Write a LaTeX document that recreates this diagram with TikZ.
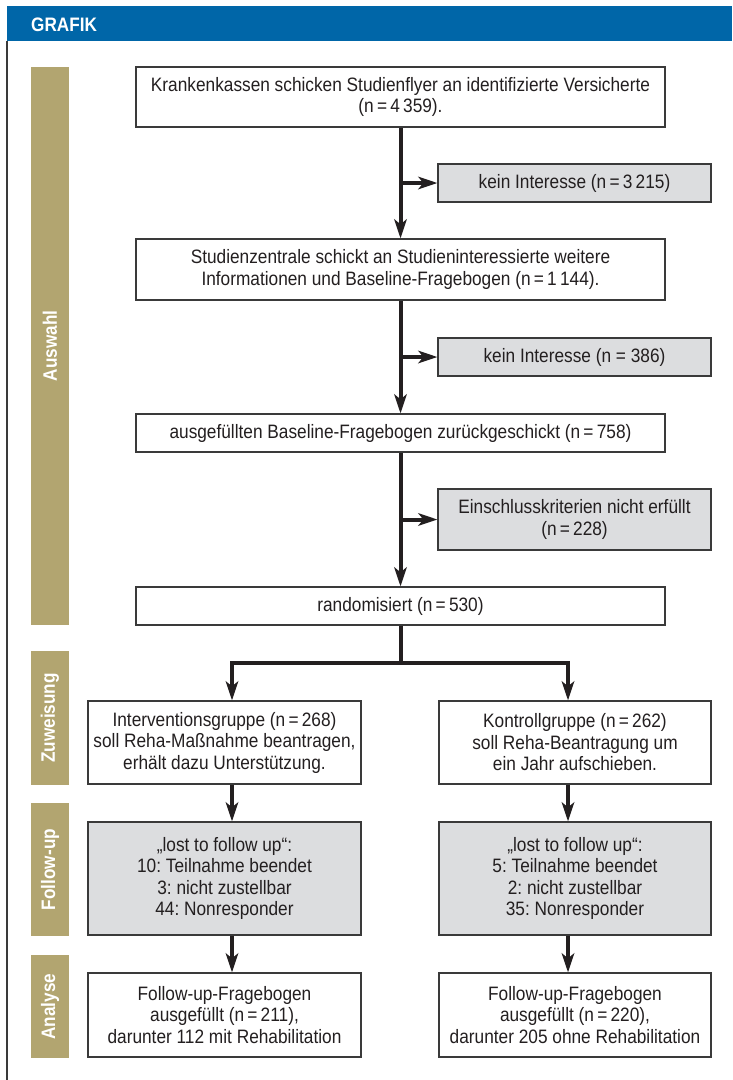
\documentclass[tikz,border=0pt]{standalone}
\usepackage{fontspec}
\setmainfont{Liberation Sans}
\newfontfamily\boxfont[FakeStretch=0.89]{Liberation Sans}
\newfontfamily\bandfont[FakeStretch=0.88]{Liberation Sans}
\usetikzlibrary{arrows.meta}
\definecolor{grafikblue}{HTML}{0066A8}
\definecolor{grafikband}{HTML}{B2A570}
\definecolor{grafikgray}{HTML}{DCDDDF}
\definecolor{grafikink}{HTML}{231F20}
\definecolor{grafikrule}{HTML}{3A3A3A}
\frenchspacing

\begin{document}
\begin{tikzpicture}[
  x=1pt,
  y=-1pt,
  every node/.style={font=\boxfont\fontsize{19.4}{21.5}\selectfont, grafikink},
  box/.style={draw=grafikrule, line width=1.3pt, fill=white, align=center,
              inner sep=0pt},
  outbox/.style={box, fill=grafikgray},
  band/.style={fill=grafikband, rotate=90, inner sep=0pt, minimum height=38pt,
               text=white, font=\bandfont\bfseries\fontsize{19.5}{22}\selectfont},
  trunk/.style={grafikink, line width=4pt},
  flow/.style={trunk, -{Stealth[length=19pt, width=12.5pt, inset=5pt]}},
  framerule/.style={grafikrule, line width=1.5pt}
]
  % ---- page size of the reference ----
  \useasboundingbox (0,0) rectangle (732,1080);

  % ---- header bar and frame ----
  \fill[grafikblue] (7,6) rectangle (732,41);
  \node[anchor=base west, inner sep=0pt, text=white,
        font=\bandfont\bfseries\fontsize{19.5}{22}\selectfont] (title) at (31,31) {GRAFIK};
  \draw[framerule] (7,41) -- (7,1080);

  % ---- phase bands on the left ----
  \foreach \name/\y/\len/\lab in {auswahl/346/558/Auswahl, zuweisung/718/134/Zuweisung,
                                  followup/869.5/133/Follow-up, analyse/1006.5/103/Analyse}
    \node[band, minimum width=\len pt] (\name) at (50,\y) {\lab};

  % ---- selection, main column ----
  \node[box, minimum width=529pt, minimum height=60pt] (flyer) at (400.5,97)
    {Krankenkassen schicken Studienflyer an identifizierte Versicherte\\(n\,=\,4\,359).};
  \node[box, minimum width=529pt, minimum height=61pt] (zentrale) at (400.5,269.5)
    {Studienzentrale schickt an Studieninteressierte weitere\\Informationen und Baseline-Fragebogen (n\,=\,1\,144).};
  \node[box, minimum width=529pt, minimum height=38pt] (bogen) at (400.5,433)
    {ausgefüllten Baseline-Fragebogen zurückgeschickt (n\,=\,758)};
  \node[box, minimum width=529pt, minimum height=38pt] (rand) at (400.5,606)
    {randomisiert (n\,=\,530)};

  % ---- dropouts, right column ----
  \node[outbox, minimum width=273pt, minimum height=38pt] (kein1) at (574.5,183)
    {kein Interesse (n\,=\,3\,215)};
  \node[outbox, minimum width=273pt, minimum height=38pt] (kein2) at (574.5,357)
    {kein Interesse (n = 386)};
  \node[outbox, minimum width=273pt, minimum height=61pt] (einschl) at (574.5,519.5)
    {Einschlusskriterien nicht erfüllt\\(n\,=\,228)};

  % ---- the two arms ----
  \node[box, minimum width=273pt, minimum height=83pt] (interv) at (224.5,742.5)
    {Interventionsgruppe (n\,=\,268)\\soll Reha-Maßnahme beantragen,\\erhält dazu Unterstützung.};
  \node[box, minimum width=272pt, minimum height=83pt] (kontr) at (575,742.5)
    {Kontrollgruppe (n\,=\,262)\\soll Reha-Beantragung um\\ein Jahr aufschieben.};
  \node[outbox, minimum width=273pt, minimum height=113pt] (lostI) at (224.5,878.5)
    {„lost to follow up“:\\10: Teilnahme beendet\\3: nicht zustellbar\\44: Nonresponder};
  \node[outbox, minimum width=272pt, minimum height=113pt] (lostK) at (575,878.5)
    {„lost to follow up“:\\5: Teilnahme beendet\\2: nicht zustellbar\\35: Nonresponder};
  \node[box, minimum width=273pt, minimum height=84pt] (anaI) at (224.5,1015)
    {Follow-up-Fragebogen\\ausgefüllt (n\,=\,211),\\darunter 112 mit Rehabilitation};
  \node[box, minimum width=272pt, minimum height=84pt] (anaK) at (575,1015)
    {Follow-up-Fragebogen\\ausgefüllt (n\,=\,220),\\darunter 205 ohne Rehabilitation};

  % ---- main flow downwards ----
  \draw[flow] (flyer.south) -- (zentrale.north);
  \draw[flow] (zentrale.south) -- (bogen.north);
  \draw[flow] (bogen.south) -- (rand.north);

  % ---- side arrows to the dropouts ----
  \draw[flow] (kein1 -| flyer.south) -- (kein1.west);
  \draw[flow] (kein2 -| flyer.south) -- (kein2.west);
  \draw[flow] (einschl -| flyer.south) -- (einschl.west);

  % ---- randomisation fork ----
  \draw[trunk] (rand.south) -- ++(0,37) coordinate (fork);
  \draw[flow] (fork) -| ([xshift=7.5pt]interv.north);
  \draw[flow] (fork) -| ([xshift=-7pt]kontr.north);

  % ---- arms downwards ----
  \draw[flow] ([xshift=7.5pt]interv.south) -- ([xshift=7.5pt]lostI.north);
  \draw[flow] ([xshift=7.5pt]lostI.south) -- ([xshift=7.5pt]anaI.north);
  \draw[flow] ([xshift=-7pt]kontr.south) -- ([xshift=-7pt]lostK.north);
  \draw[flow] ([xshift=-7pt]lostK.south) -- ([xshift=-7pt]anaK.north);
\end{tikzpicture}
\end{document}
